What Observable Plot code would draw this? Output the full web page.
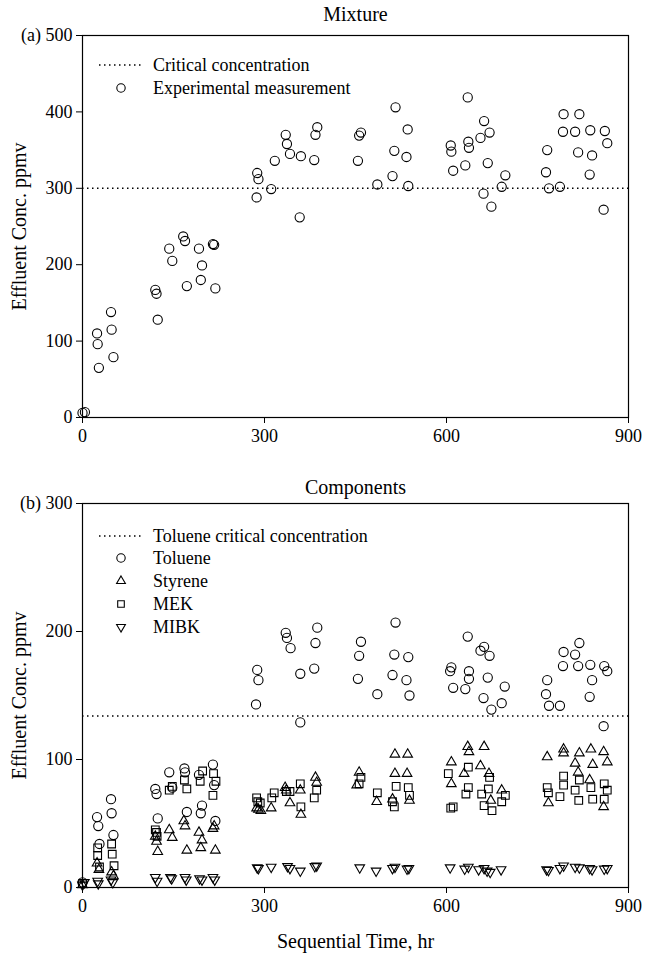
<!DOCTYPE html>
<html>
<head>
<meta charset="utf-8">
<script src="https://cdn.jsdelivr.net/npm/d3@7"></script>
<script src="https://cdn.jsdelivr.net/npm/@observablehq/plot@0.6"></script>
<style>
  html, body { margin: 0; padding: 0; background: #fff; }
  #wrap { position: relative; width: 646px; height: 953px; font-family: "Liberation Serif", serif; color: #000; }
  #wrap svg { display: block; }
  .leg { position: absolute; height: 22px; line-height: 22px; font-size: 18px; white-space: nowrap; }
  .leg svg { position: absolute; left: 0; top: 0; }
  .leg span { position: absolute; left: 58px; top: 0; }
</style>
</head>
<body>
<div id="wrap"></div>
<script>
// ---------- DATA ----------
const xTicks = [0, 300, 600, 900];
const yTicksA = [0, 100, 200, 300, 400, 500];
const yTicksB = [0, 100, 200, 300];
const mixtureCritical = 300;
const tolueneCritical = 134;

// (a) Mixture: [time hr, effluent conc ppmv]
const mixture = [
  [0,6],[4,7],[24,110],[25,96],[27,65],[47,138],[48,115],[51,79],
  [120,167],[122,162],[124,128],[143,221],[148,205],[166,237],[169,231],[172,172],
  [192,221],[195,180],[197,199],[215,227],[217,226],[219,169],
  [288,320],[290,312],[287,288],[311,299],[317,336],[335,370],[337,358],[342,345],
  [360,342],[358,262],[382,337],[384,370],[387,380],
  [454,336],[456,369],[459,373],[486,305],[511,316],[514,349],[516,406],[534,341],[536,377],[537,303],
  [607,356],[608,348],[611,323],[631,330],[635,419],[636,361],[637,353],[656,366],[662,388],
  [671,373],[668,333],[661,293],[674,276],[691,302],[697,317],
  [766,350],[764,321],[769,300],[787,302],[793,397],[819,397],[792,374],[812,374],[817,347],
  [837,376],[840,343],[836,318],[861,375],[865,359],[859,272]
];

// (b) Components
const toluene = [
  [0,4],[24,55],[26,48],[28,34],[47,69],[48,58],[51,41],[120,77],[122,73],[124,54],
  [143,90],[148,78],[168,93],[169,90],[172,59],[192,88],[195,58],[197,64],[215,96],[217,80],[219,52],
  [288,170],[290,162],[286,143],[335,199],[337,195],[343,187],[359,167],[359,129],[382,171],[384,191],[387,203],
  [454,163],[456,181],[459,192],[486,151],[511,166],[514,182],[516,207],[534,162],[537,180],[539,150],
  [606,169],[608,172],[611,156],[631,155],[635,196],[637,169],[637,163],[656,185],[662,188],[671,181],
  [668,164],[661,148],[674,139],[691,144],[696,157],
  [766,162],[764,151],[769,142],[787,142],[793,184],[819,191],[792,173],[812,182],[817,173],
  [837,174],[840,162],[836,149],[860,173],[865,169],[859,126]
];
const styrene = [
  [0,2],[24,19],[27,14],[48,12],[51,9],[120,40],[122,36],[124,28],
  [143,45],[148,39],[167,52],[169,48],[172,29],[192,43],[195,31],[197,37],[215,46],[217,48],[219,29],
  [287,62],[290,61],[294,60],[311,62],[334,78],[336,76],[342,66],[360,57],[359,76],[384,86],[386,82],
  [452,80],[456,90],[485,67],[511,69],[515,104],[515,89],[535,89],[536,104],[539,68],
  [608,98],[608,81],[629,89],[635,110],[637,106],[656,95],[662,110],[670,89],[673,68],[691,76],
  [766,102],[768,66],[793,108],[793,105],[812,97],[817,90],[819,105],[836,84],[838,108],[841,96],
  [859,106],[859,63],[865,98]
];
const mek = [
  [0,3],[25,31],[25,25],[28,16],[48,34],[49,26],[52,17],[120,45],[122,43],[123,40],
  [143,76],[148,79],[168,84],[172,77],[194,83],[198,91],[216,89],[220,83],[215,72],
  [287,70],[289,67],[293,66],[312,70],[316,74],[336,75],[342,75],[359,81],[360,63],[382,70],[386,76],
  [456,81],[459,86],[486,74],[511,67],[514,63],[517,79],[537,78],[539,72],
  [603,89],[607,62],[611,63],[632,73],[636,94],[636,78],[658,73],[662,64],[669,77],[671,86],[675,60],[691,67],[697,72],
  [766,78],[768,74],[787,71],[793,87],[793,80],[812,76],[818,68],[819,84],[838,78],[841,69],[860,81],[860,69],[865,76]
];
const mibk = [
  [0,2],[3,4],[25,5],[26,3],[47,6],[50,4],[120,8],[123,5],[145,8],[147,7],[169,8],[171,6],[193,7],[197,6],[215,8],[218,6],
  [288,15.5],[290,15],[311,16],[338,16.5],[342,15],[359,13],[383,16.5],[386,17],
  [457,15.5],[484,13],[511,15],[515,16],[535,14.5],[538,15],
  [606,15.5],[630,14.5],[636,16],[653,14],[662,15],[667,13],[672,12],[690,14],
  [765,14],[768,13.5],[787,15],[793,17],[812,16],[819,15.5],[836,15],[840,14],[860,14.5],[865,15]
];

const legendA = ["Critical concentration", "Experimental measurement"];
const legendB = ["Toluene critical concentration", "Toluene", "Styrene", "MEK", "MIBK"];

// ---------- STYLE ----------
const font = "Liberation Serif";
const R = 4.6;
const SW = 1.1;
const common = {
  width: 646, marginLeft: 82, marginRight: 18,
  style: { fontFamily: font, fontSize: "18px", color: "black", background: "white", overflow: "visible" }
};

function panel({height, marginTop, marginBottom, domainY, ticksY, tag, title, titleDy, critical, dots, xLabel}) {
  return Plot.plot({
    ...common, height, marginTop, marginBottom,
    x: { domain: [0, 900] },
    y: { domain: domainY },
    marks: [
      Plot.ruleY([critical], { stroke: "black", strokeWidth: 1.5, strokeDasharray: "1.5 3.5" }),
      ...dots,
      Plot.frame({ stroke: "black", strokeWidth: 1.2 }),
      Plot.axisY({ ticks: ticksY, tickSize: 6, tickPadding: 4, fontSize: 18, label: null,
        tickFormat: d => d === domainY[1] ? `${tag} ${d}` : `${d}` }),
      Plot.axisX({ ticks: xTicks, tickSize: 6, tickPadding: 6, fontSize: 18, label: null }),
      Plot.text([title], { text: d => d, frameAnchor: "top", dy: titleDy, fontSize: 20, lineAnchor: "middle" }),
      Plot.text(["Effluent Conc. ppmv"], { text: d => d, frameAnchor: "left", dx: -63, rotate: -90, fontSize: 20, textAnchor: "middle", lineAnchor: "middle" }),
      ...(xLabel ? [Plot.text([xLabel], { text: d => d, frameAnchor: "bottom", dy: 54, fontSize: 20, lineAnchor: "middle" })] : [])
    ]
  });
}

const dotOpts = { x: d => d[0], y: d => d[1], r: R, stroke: "black", strokeWidth: SW, fill: "none" };

const plotA = panel({
  height: 460, marginTop: 35, marginBottom: 43, domainY: [0, 500], ticksY: yTicksA, tag: "(a)",
  title: "Mixture", titleDy: -21, critical: mixtureCritical,
  dots: [Plot.dot(mixture, { ...dotOpts, symbol: "circle" })]
});
const plotB = panel({
  height: 493, marginTop: 43, marginBottom: 66, domainY: [0, 300], ticksY: yTicksB, tag: "(b)",
  title: "Components", titleDy: -16, critical: tolueneCritical, xLabel: "Sequential Time, hr",
  dots: [
    Plot.dot(mibk, { ...dotOpts, symbol: "triangle2", rotate: 180 }),
    Plot.dot(mek, { ...dotOpts, symbol: "square2", r: 4.9 }),
    Plot.dot(styrene, { ...dotOpts, symbol: "triangle2" }),
    Plot.dot(toluene, { ...dotOpts, symbol: "circle" })
  ]
});

const wrap = document.getElementById("wrap");
wrap.appendChild(plotA);
wrap.appendChild(plotB);

// ---------- LEGENDS (HTML overlay) ----------
function symPath(type, rotate) {
  const size = Math.PI * 4.2 * 4.2;
  const p = d3.symbol(type, size)();
  return `<path d="${p}" transform="translate(26,11)${rotate ? " rotate(180)" : ""}" fill="none" stroke="black" stroke-width="${SW}"/>`;
}
const linePath = `<line x1="4" x2="48" y1="11" y2="11" stroke="black" stroke-width="1.5" stroke-dasharray="1.5 3.5"/>`;

function addLegend(labels, glyphs, left, centers) {
  labels.forEach((lab, i) => {
    const div = document.createElement("div");
    div.className = "leg";
    div.style.left = left + "px";
    div.style.top = (centers[i] - 11) + "px";
    div.innerHTML = `<svg width="54" height="22">${glyphs[i]}</svg><span>${lab}</span>`;
    wrap.appendChild(div);
  });
}
addLegend(legendA, [linePath, symPath(d3.symbolCircle)], 95, [65, 88]);
addLegend(legendB, [linePath, symPath(d3.symbolCircle), symPath(d3.symbolTriangle2), symPath(d3.symbolSquare2), symPath(d3.symbolTriangle2, true)], 95, [536, 558, 581, 604, 627]);
</script>
</body>
</html>
